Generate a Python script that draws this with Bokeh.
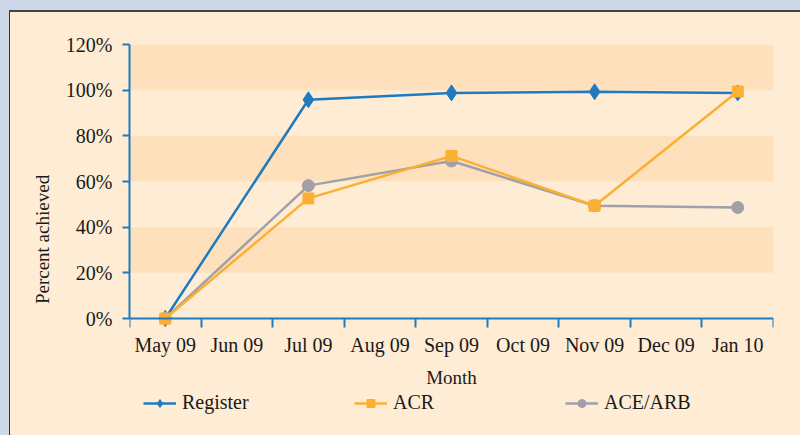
from bokeh.plotting import figure
from bokeh.models import Range1d, FixedTicker, Legend, LegendItem
from bokeh.embed import file_html
from bokeh.resources import INLINE

months = ["May 09", "Jun 09", "Jul 09", "Aug 09", "Sep 09", "Oct 09", "Nov 09", "Dec 09", "Jan 10"]
data_months = ["May 09", "Jul 09", "Sep 09", "Nov 09", "Jan 10"]
register = [0, 95.8, 98.8, 99.3, 98.8]
acr = [0, 52.6, 71.2, 49.4, 99.4]
ace_arb = [0, 58.2, 69.0, 49.4, 48.6]
y_ticks = [0, 20, 40, 60, 80, 100, 120]
y_tick_labels = ["0%", "20%", "40%", "60%", "80%", "100%", "120%"]

FONT = "Liberation Serif"
FS = "20px"
BLUE = "#1f7bbd"
ORANGE = "#fbb034"
GRAY = "#a0a0a8"
PANEL = "#feecd4"
BAND = "#fee1bc"
TXT = "#1a1a1a"
OUTER = "#cdd9e9"

# layout (pixels): data area 274 px tall, extra 116 px below the 0 line for axis text and legend
PLOT_H = 274
EXTRA_H = 116
y_lo = -y_ticks[-1] * EXTRA_H / PLOT_H

xs = [months.index(m) + 0.5 for m in data_months]

p = figure(output_backend="svg", toolbar_location=None,
           x_range=Range1d(0, len(months)), y_range=Range1d(y_lo, y_ticks[-1]),
           frame_width=644, frame_height=PLOT_H + EXTRA_H,
           min_border_left=119, min_border_top=32, min_border_right=27, min_border_bottom=0)
p.background_fill_color = PANEL
p.border_fill_color = PANEL
p.outline_line_color = None

p.xgrid.grid_line_color = None
p.ygrid.grid_line_color = None
# bands between alternate ticks, starting at the 20% line
p.ygrid.ticker = FixedTicker(ticks=y_ticks[1:])
p.ygrid.band_fill_color = BAND
p.ygrid.band_fill_alpha = 1.0

ya = p.yaxis[0]
ya.ticker = FixedTicker(ticks=y_ticks)
ya.bounds = (y_ticks[0], y_ticks[-1])
ya.major_label_overrides = {t: l for t, l in zip(y_ticks, y_tick_labels)}
ya.axis_line_color = BLUE
ya.axis_line_width = 2
ya.major_tick_line_color = BLUE
ya.major_tick_line_width = 2
ya.major_tick_in = 0
ya.major_tick_out = 7
ya.minor_tick_line_color = None
ya.major_label_text_font = FONT
ya.major_label_text_font_size = FS
ya.major_label_text_color = TXT
ya.major_label_standoff = 10
ya.axis_label = "Percent achieved"
ya.axis_label_text_font = FONT
ya.axis_label_text_font_size = "19px"
ya.axis_label_text_font_style = "normal"
ya.axis_label_text_color = TXT
ya.axis_label_standoff = 10

xa = p.xaxis[0]
xa.fixed_location = y_ticks[0]
centres = [i + 0.5 for i in range(len(months))]
bounds = list(range(len(months) + 1))
xa.ticker = FixedTicker(ticks=centres, minor_ticks=bounds)
xa.major_label_overrides = {c: m for c, m in zip(centres, months)}
xa.axis_line_color = BLUE
xa.axis_line_width = 2
xa.major_tick_line_color = None
xa.minor_tick_line_color = BLUE
xa.minor_tick_line_width = 2
xa.minor_tick_in = 0
xa.minor_tick_out = 9
xa.major_tick_in = 0
xa.major_tick_out = 9
xa.major_label_text_font = FONT
xa.major_label_text_font_size = FS
xa.major_label_text_color = TXT
xa.major_label_standoff = 6
xa.axis_label = "Month"
xa.axis_label_text_font = FONT
xa.axis_label_text_font_size = "19px"
xa.axis_label_text_font_style = "normal"
xa.axis_label_text_color = TXT
xa.axis_label_standoff = 8

r_line = p.line(xs, register, line_color=BLUE, line_width=2.5)
r_pts = p.scatter(xs, register, marker="diamond", size=16, fill_color=BLUE, line_color=BLUE)
g_line = p.line(xs, ace_arb, line_color=GRAY, line_width=2.5)
g_pts = p.scatter(xs, ace_arb, marker="circle", size=12, fill_color=GRAY, line_color=GRAY)
o_line = p.line(xs, acr, line_color=ORANGE, line_width=2.5)
o_pts = p.scatter(xs, acr, marker="square", size=11, fill_color=ORANGE, line_color=ORANGE)

legend = Legend(items=[
    LegendItem(label="Register", renderers=[r_line, r_pts]),
    LegendItem(label="ACR", renderers=[o_line, o_pts]),
    LegendItem(label="ACE/ARB", renderers=[g_line, g_pts]),
], orientation="horizontal", location=(14, 20))
legend.background_fill_alpha = 0
legend.border_line_color = None
legend.label_text_font = FONT
legend.label_text_font_size = FS
legend.label_text_color = TXT
legend.glyph_width = 33
legend.glyph_height = 20
legend.label_width = 172
legend.label_height = 20
legend.spacing = 0
legend.padding = 0
legend.margin = 0
legend.label_standoff = 6
p.add_layout(legend, "center")

html = file_html(p, INLINE)
css = ("<style>html { background-color: %s !important; margin: 0 !important; padding: 0 !important; overflow: hidden; } "
       "body { background-color: %s !important; margin: 10px 0 0 9px !important; padding: 0 !important; "
       "border-top: 2px solid #444444; border-left: 1px solid #333333; height: 100%%; overflow: hidden; }</style>") % (OUTER, PANEL)
html = html.replace("</head>", css + "</head>", 1)
open("out.html", "w").write(html)
